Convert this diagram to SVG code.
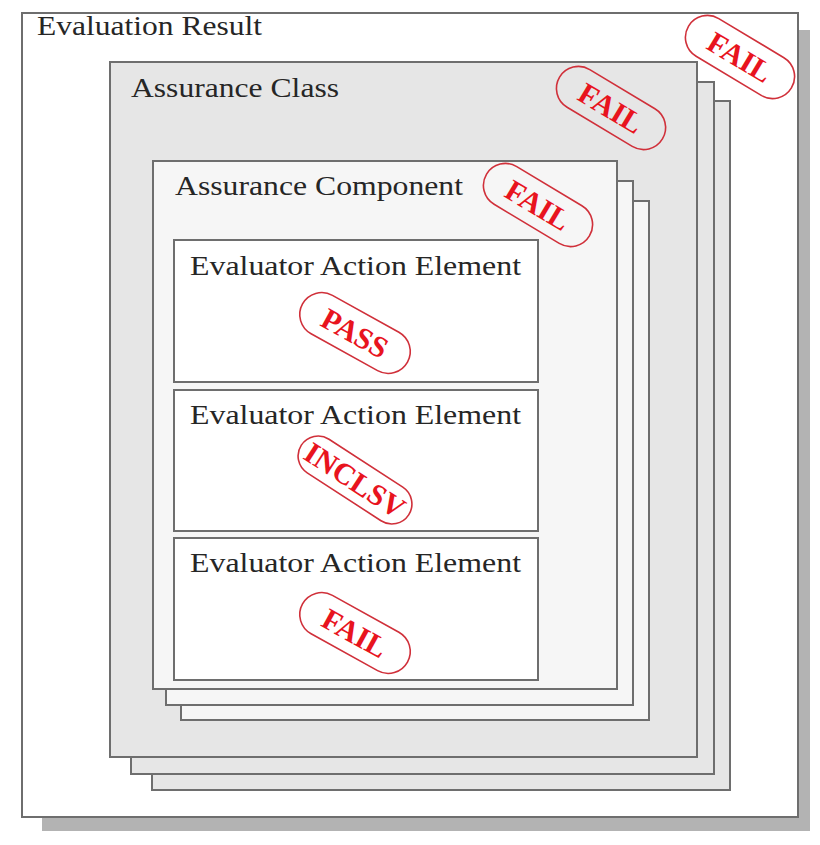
<svg xmlns="http://www.w3.org/2000/svg" width="820" height="845" viewBox="0 0 820 845">
  <style>
    .frame { stroke: #6e6e6e; stroke-width: 2; }
    .label { font-family: "Liberation Serif", "Times New Roman", serif; font-size: 28px; fill: #262626; }
    .pill { fill: none; stroke: #d0303a; stroke-width: 1.6; }
    .verdict { font-family: "Liberation Serif", "Times New Roman", serif; font-weight: bold; font-size: 30px; fill: #e8141e; text-anchor: middle; dominant-baseline: central; }
  </style>
  <defs>
    <!-- rubber-stamp outline, centred on the origin -->
    <rect id="stamp" x="-60" y="-22" width="120" height="44" rx="22" ry="22" class="pill"/>
  </defs>

  <rect width="820" height="845" fill="#ffffff"/>

  <!-- Evaluation Result -->
  <g id="evaluation-result">
    <rect x="42" y="30" width="768" height="801" fill="#b3b3b3"/>
    <rect x="22" y="13" width="776" height="804" fill="#ffffff" class="frame"/>
    <text x="37" y="35" class="label" textLength="225" lengthAdjust="spacingAndGlyphs">Evaluation Result</text>
  </g>

  <!-- Assurance Class (stacked) -->
  <g id="assurance-class">
    <rect x="152" y="101" width="578" height="689" fill="#e6e6e6" class="frame"/>
    <rect x="131" y="82" width="583" height="692" fill="#e6e6e6" class="frame"/>
    <rect x="110" y="62" width="587" height="695" fill="#e6e6e6" class="frame"/>
    <text x="131" y="97" class="label" textLength="208" lengthAdjust="spacingAndGlyphs">Assurance Class</text>
  </g>

  <!-- Assurance Component (stacked) -->
  <g id="assurance-component">
    <rect x="181" y="201" width="468" height="519" fill="#f6f6f6" class="frame"/>
    <rect x="166" y="181" width="467" height="524" fill="#f6f6f6" class="frame"/>
    <rect x="153" y="161" width="464" height="528" fill="#f6f6f6" class="frame"/>
    <text x="175" y="195" class="label" textLength="288" lengthAdjust="spacingAndGlyphs">Assurance Component</text>
  </g>

  <!-- Evaluator Action Elements -->
  <g id="element-1">
    <rect x="174" y="240" width="364" height="142" fill="#ffffff" class="frame"/>
    <text x="190" y="275" class="label" textLength="331" lengthAdjust="spacingAndGlyphs">Evaluator Action Element</text>
  </g>
  <g id="element-2">
    <rect x="174" y="390" width="364" height="141" fill="#ffffff" class="frame"/>
    <text x="190" y="424" class="label" textLength="331" lengthAdjust="spacingAndGlyphs">Evaluator Action Element</text>
  </g>
  <g id="element-3">
    <rect x="174" y="538" width="364" height="142" fill="#ffffff" class="frame"/>
    <text x="190" y="572" class="label" textLength="331" lengthAdjust="spacingAndGlyphs">Evaluator Action Element</text>
  </g>

  <!-- verdict stamps -->
  <g id="stamp-result" transform="translate(740 57) rotate(31)">
    <use href="#stamp"/>
    <text class="verdict" x="0" y="0">FAIL</text>
  </g>
  <g id="stamp-class" transform="translate(611 108) rotate(31)">
    <use href="#stamp"/>
    <text class="verdict" x="0" y="0">FAIL</text>
  </g>
  <g id="stamp-component" transform="translate(538 205) rotate(31)">
    <use href="#stamp"/>
    <text class="verdict" x="0" y="0">FAIL</text>
  </g>
  <g id="stamp-element-1" transform="translate(355 333) rotate(29)">
    <use href="#stamp"/>
    <text class="verdict" x="0" y="0">PASS</text>
  </g>
  <g id="stamp-element-2" transform="translate(355 480) rotate(33)">
    <rect x="-64" y="-20" width="128" height="40" rx="20" ry="20" class="pill"/>
    <text class="verdict" x="0" y="0" font-size="27">INCLSV</text>
  </g>
  <g id="stamp-element-3" transform="translate(355 633) rotate(29)">
    <use href="#stamp"/>
    <text class="verdict" x="0" y="0">FAIL</text>
  </g>
</svg>
